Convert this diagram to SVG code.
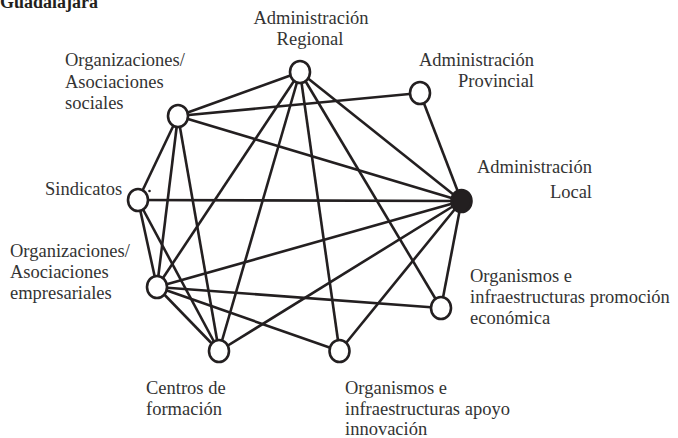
<svg xmlns="http://www.w3.org/2000/svg" width="678" height="438" viewBox="0 0 678 438">
<style>
.lbl{font-family:"Liberation Serif","Times New Roman",serif;font-size:18.5px;fill:#333333}
.title{font-family:"Liberation Serif","Times New Roman",serif;font-size:18px;font-weight:bold;fill:#231f20}
.edge{stroke:#231f20;stroke-width:2.6;fill:none}
.node{fill:#ffffff;stroke:#231f20;stroke-width:2.6}
.nodeF{fill:#231f20;stroke:#231f20;stroke-width:2.6}
</style>
<rect width="678" height="438" fill="#ffffff"/>
<text class="title" x="0" y="8">Guadalajara</text>
<g id="connectors">
<line class="edge" x1="300" y1="72" x2="178" y2="116"/>
<line class="edge" x1="300" y1="72" x2="157" y2="287"/>
<line class="edge" x1="300" y1="72" x2="219" y2="351"/>
<line class="edge" x1="300" y1="72" x2="339.5" y2="351"/>
<line class="edge" x1="300" y1="72" x2="441" y2="308"/>
<line class="edge" x1="300" y1="72" x2="461.5" y2="201"/>
<line class="edge" x1="178" y1="116" x2="420" y2="93"/>
<line class="edge" x1="178" y1="116" x2="461.5" y2="201"/>
<line class="edge" x1="178" y1="116" x2="138" y2="200"/>
<line class="edge" x1="178" y1="116" x2="157" y2="287"/>
<line class="edge" x1="178" y1="116" x2="219" y2="351"/>
<line class="edge" x1="138" y1="200" x2="461.5" y2="201"/>
<line class="edge" x1="138" y1="200" x2="157" y2="287"/>
<line class="edge" x1="138" y1="200" x2="219" y2="351"/>
<line class="edge" x1="157" y1="287" x2="461.5" y2="201"/>
<line class="edge" x1="157" y1="287" x2="441" y2="308"/>
<line class="edge" x1="157" y1="287" x2="339.5" y2="351"/>
<line class="edge" x1="157" y1="287" x2="219" y2="351"/>
<line class="edge" x1="219" y1="351" x2="461.5" y2="201"/>
<line class="edge" x1="339.5" y1="351" x2="461.5" y2="201"/>
<line class="edge" x1="441" y1="308" x2="461.5" y2="201"/>
<line class="edge" x1="420" y1="93" x2="461.5" y2="201"/>
</g>
<g id="n-regional">
<ellipse class="node" cx="300" cy="72" rx="10" ry="11"/>
<text class="lbl" text-anchor="middle" x="311" y="24">Administración</text>
<text class="lbl" text-anchor="middle" x="310" y="45">Regional</text>
</g>
<g id="n-provincial">
<ellipse class="node" cx="420" cy="93" rx="10" ry="11"/>
<text class="lbl" text-anchor="end" x="534" y="66">Administración</text>
<text class="lbl" text-anchor="end" x="534" y="87">Provincial</text>
</g>
<g id="n-local">
<ellipse class="nodeF" cx="461.5" cy="201" rx="10" ry="11"/>
<text class="lbl" text-anchor="end" x="592" y="173">Administración</text>
<text class="lbl" text-anchor="end" x="592" y="198">Local</text>
</g>
<g id="n-sociales">
<ellipse class="node" cx="178" cy="116" rx="10" ry="11"/>
<text class="lbl" x="65" y="66">Organizaciones/</text>
<text class="lbl" x="65" y="88">Asociaciones</text>
<text class="lbl" x="65" y="109">sociales</text>
</g>
<g id="n-sindicatos">
<ellipse class="node" cx="138" cy="200" rx="10" ry="11"/>
<circle cx="149.5" cy="191" r="1.3" fill="#231f20"/>
<text class="lbl" x="45" y="195">Sindicatos</text>
</g>
<g id="n-empresariales">
<ellipse class="node" cx="157" cy="287" rx="10" ry="11"/>
<text class="lbl" x="10" y="257">Organizaciones/</text>
<text class="lbl" x="10" y="278">Asociaciones</text>
<text class="lbl" x="10" y="299">empresariales</text>
</g>
<g id="n-promocion">
<ellipse class="node" cx="441" cy="308" rx="10" ry="11"/>
<text class="lbl" x="470" y="282">Organismos e</text>
<text class="lbl" x="470" y="303">infraestructuras promoción</text>
<text class="lbl" x="470" y="324">económica</text>
</g>
<g id="n-centros">
<ellipse class="node" cx="219" cy="351" rx="10" ry="11"/>
<text class="lbl" x="146" y="394">Centros de</text>
<text class="lbl" x="146" y="415">formación</text>
</g>
<g id="n-innovacion">
<ellipse class="node" cx="339.5" cy="351" rx="10" ry="11"/>
<text class="lbl" x="345" y="394">Organismos e</text>
<text class="lbl" x="345" y="415">infraestructuras apoyo</text>
<text class="lbl" x="345" y="435">innovación</text>
</g>
</svg>
